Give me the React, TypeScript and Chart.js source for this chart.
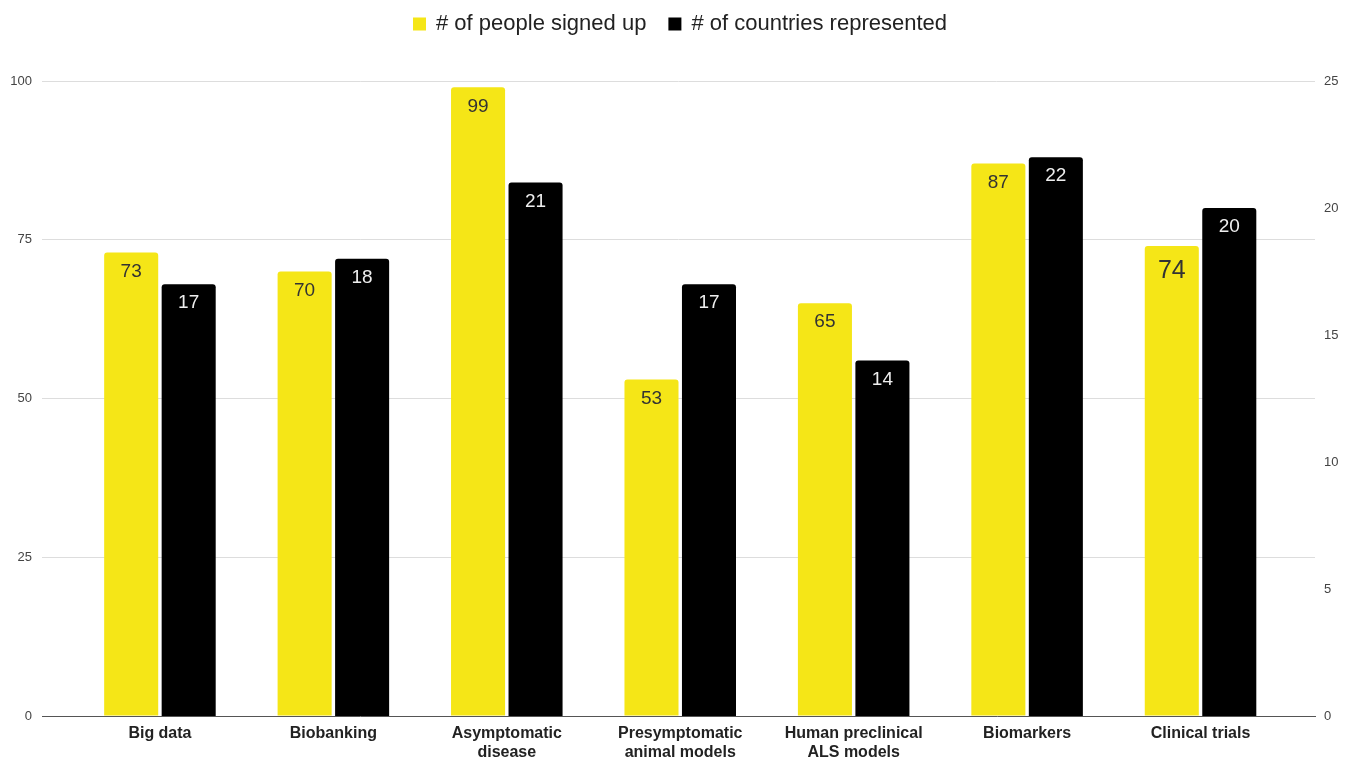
import React, { useEffect, useRef } from "react";
import { Chart, registerables } from "chart.js";

Chart.register(...registerables);

const categories: (string | string[])[] = [
  "Big data",
  "Biobanking",
  ["Asymptomatic", "disease"],
  ["Presymptomatic", "animal models"],
  ["Human preclinical", "ALS models"],
  "Biomarkers",
  "Clinical trials",
];
const peopleSignedUp = [73, 70, 99, 53, 65, 87, 74];
const countriesRepresented = [17, 18, 21, 17, 14, 22, 20];
const peopleLabelSizes = [19, 19, 19, 19, 19, 19, 25];
const countriesLabelSizes = [19, 19, 19, 19, 19, 19, 19];
const leftTicks = [0, 25, 50, 75, 100];
const rightTicks = [0, 5, 10, 15, 20, 25];
const seriesNames = ["# of people signed up", "# of countries represented"];
const YELLOW = "#f5e617";
const BLACK = "#000000";
const FONT = '"Liberation Sans", Arial, sans-serif';

export default function App() {
  const ref = useRef<HTMLCanvasElement>(null);
  useEffect(() => {
    if (!ref.current) return;

    const dataLabels = {
      id: "dataLabels",
      afterDatasetsDraw(chart: any) {
        const ctx = chart.ctx;
        ctx.save();
        ctx.textAlign = "center";
        ctx.textBaseline = "middle";
        chart.data.datasets.forEach((ds: any, di: number) => {
          const meta = chart.getDatasetMeta(di);
          const sizes = di === 0 ? peopleLabelSizes : countriesLabelSizes;
          meta.data.forEach((bar: any, i: number) => {
            const v = ds.data[i].y;
            const s = sizes[i];
            ctx.font = `${s}px ${FONT}`;
            ctx.fillStyle = di === 0 ? "#333333" : "#eeeeee";
            ctx.fillText(String(v), bar.x, bar.y + s);
          });
        });
        ctx.restore();
      },
    };

    const legend = {
      id: "customLegend",
      afterDraw(chart: any) {
        const ctx = chart.ctx;
        ctx.save();
        ctx.font = `22px ${FONT}`;
        const box = 13;
        const gapBox = 10;
        const gapItem = 22;
        const widths = seriesNames.map((n) => ctx.measureText(n).width);
        const total =
          widths.reduce((a, b) => a + b, 0) + 2 * (box + gapBox) + gapItem;
        let x = chart.width / 2 - total / 2 + 7;
        const y = 24;
        const colors = [YELLOW, BLACK];
        ctx.textBaseline = "middle";
        ctx.textAlign = "left";
        seriesNames.forEach((n, i) => {
          ctx.fillStyle = colors[i];
          ctx.fillRect(x, y - box / 2, box, box);
          x += box + gapBox;
          ctx.fillStyle = "#222222";
          ctx.fillText(n, x, y);
          x += widths[i] + gapItem;
        });
        ctx.restore();
      },
    };

    const chart = new Chart(ref.current, {
      type: "bar",
      data: {
        datasets: [
          {
            label: seriesNames[0],
            data: peopleSignedUp.map((v, i) => ({ x: i, y: v })),
            backgroundColor: YELLOW,
            yAxisID: "y",
            borderRadius: 3,
            categoryPercentage: 0.663,
            barPercentage: 0.94,
          },
          {
            label: seriesNames[1],
            data: countriesRepresented.map((v, i) => ({ x: i, y: v })),
            backgroundColor: BLACK,
            yAxisID: "y1",
            borderRadius: 3,
            categoryPercentage: 0.663,
            barPercentage: 0.94,
          },
        ],
      },
      options: {
        animation: false,
        responsive: false,
        maintainAspectRatio: false,
        layout: { padding: { top: 81, left: 0, right: 0, bottom: 0 } },
        plugins: {
          legend: { display: false },
          tooltip: { enabled: false },
        },
        scales: {
          x: {
            type: "linear",
            offset: false,
            min: -0.68,
            max: 6.66,
            grid: { display: false, drawTicks: false },
            border: { display: true, color: "#555555", width: 1 },
            afterBuildTicks(axis: any) {
              axis.ticks = categories.map((_, i) => ({ value: i }));
            },
            afterFit(axis: any) {
              axis.height = 44;
            },
            ticks: {
              autoSkip: false,
              maxRotation: 0,
              minRotation: 0,
              padding: 8,
              color: "#222222",
              font: { family: FONT, size: 16, weight: "bold" },
              callback: (value: any) => categories[Math.round(Number(value))] ?? "",
            },
          },
          y: {
            position: "left",
            min: 0,
            max: 100,
            afterBuildTicks(axis: any) {
              axis.ticks = leftTicks.map((v) => ({ value: v }));
            },
            afterFit(axis: any) {
              axis.width = 42;
            },
            grid: { color: "#dddddd", drawTicks: false, lineWidth: 1 },
            border: { display: false },
            ticks: {
              padding: 10,
              color: "#444444",
              font: { family: FONT, size: 13 },
            },
          },
          y1: {
            position: "right",
            min: 0,
            max: 25,
            afterBuildTicks(axis: any) {
              axis.ticks = rightTicks.map((v) => ({ value: v }));
            },
            afterFit(axis: any) {
              axis.width = 31;
            },
            grid: { display: false, drawTicks: false },
            border: { display: false },
            ticks: {
              padding: 9,
              color: "#444444",
              font: { family: FONT, size: 13 },
            },
          },
        },
      } as any,
      plugins: [dataLabels, legend],
    });
    return () => chart.destroy();
  }, []);

  return (
    <div
      style={{
        position: "absolute",
        left: 0,
        top: 0,
        width: 1346,
        height: 760,
        background: "#ffffff",
      }}
    >
      <canvas ref={ref} width={1346} height={760} />
    </div>
  );
}
